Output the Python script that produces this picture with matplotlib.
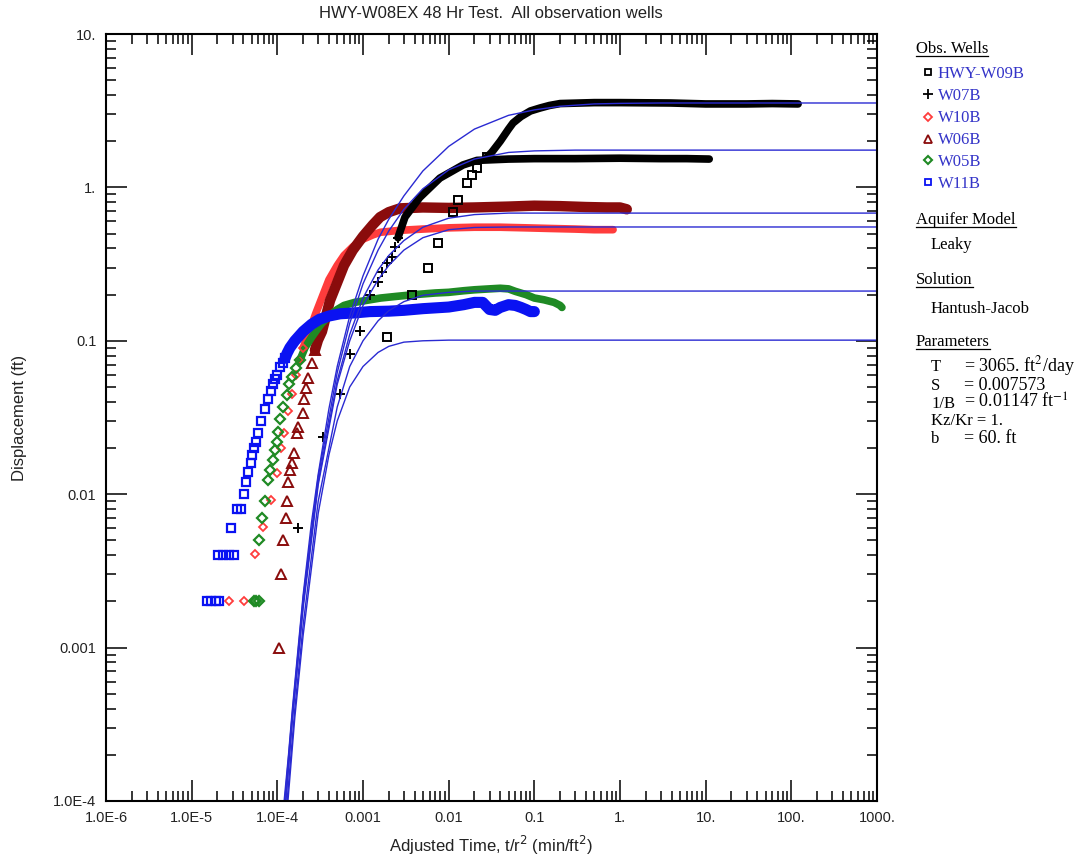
import matplotlib
matplotlib.use("Agg")
import matplotlib.pyplot as plt
import numpy as np
from matplotlib.lines import Line2D
from matplotlib.ticker import FixedLocator, FixedFormatter, LogLocator, NullFormatter

FIG_W, FIG_H = 1088, 859

# ---------------- Hantush-Jacob type curves (x = t/r^2, y = displacement ft) ----------------
fit_w09b_x = [1.2e-4, 1.35e-4, 1.5e-4, 1.75e-4, 2e-4, 2.5e-4, 3e-4, 4e-4, 5e-4, 7e-4, 1e-3, 1.5e-3,
              2e-3, 3e-3, 5e-3, 0.01, 0.02, 0.05, 0.1, 0.2, 0.5, 1.0, 3.0, 1000.0]
fit_w09b_y = [1e-4, 2e-4, 4e-4, 1e-3, 2.2e-3, 6.5e-3, 0.0135, 0.036, 0.068, 0.145, 0.265, 0.46,
              0.62, 0.88, 1.28, 1.85, 2.4, 2.95, 3.2, 3.38, 3.5, 3.53, 3.55, 3.55]

fit_w07b_x = [1.22e-4, 1.5e-4, 2e-4, 3e-4, 5e-4, 7e-4, 1e-3, 1.5e-3, 2e-3, 3e-3, 5e-3, 0.01,
              0.02, 0.05, 0.1, 0.3, 1000.0]
fit_w07b_y = [1e-4, 3.8e-4, 2.1e-3, 0.013, 0.062, 0.13, 0.235, 0.39, 0.52, 0.72, 0.98, 1.3,
              1.53, 1.69, 1.73, 1.75, 1.75]

fit_w06b_x = [1.25e-4, 1.5e-4, 2e-4, 3e-4, 5e-4, 7e-4, 1e-3, 1.5e-3, 2e-3, 3e-3, 5e-3, 0.01,
              0.02, 0.05, 1000.0]
fit_w06b_y = [1e-4, 3.5e-4, 1.9e-3, 0.012, 0.055, 0.11, 0.19, 0.29, 0.36, 0.45, 0.55, 0.63,
              0.665, 0.68, 0.68]

fit_w10b_x = [1.26e-4, 1.5e-4, 2e-4, 3e-4, 5e-4, 7e-4, 1e-3, 1.5e-3, 2e-3, 3e-3, 5e-3, 0.01,
              0.02, 0.05, 1000.0]
fit_w10b_y = [1e-4, 3.4e-4, 1.8e-3, 0.0115, 0.052, 0.10, 0.17, 0.25, 0.31, 0.39, 0.47, 0.53,
              0.548, 0.552, 0.552]

fit_w05b_x = [1.3e-4, 1.6e-4, 2e-4, 3e-4, 5e-4, 7e-4, 1e-3, 1.5e-3, 2e-3, 3e-3, 5e-3, 0.01,
              0.02, 1000.0]
fit_w05b_y = [1e-4, 4e-4, 1.4e-3, 0.009, 0.037, 0.068, 0.10, 0.135, 0.157, 0.18, 0.198, 0.207,
              0.211, 0.211]

fit_w11b_x = [1.33e-4, 1.6e-4, 2e-4, 3e-4, 4e-4, 5e-4, 7e-4, 1e-3, 1.5e-3, 2e-3, 3e-3, 5e-3,
              0.01, 1000.0]
fit_w11b_y = [1e-4, 3.5e-4, 1.2e-3, 0.0075, 0.018, 0.03, 0.05, 0.068, 0.084, 0.092, 0.098, 0.10,
              0.101, 0.101]

# ---------------- observed drawdown: early readings (individual markers) ----------------
w09b_x = [1.9e-3, 3.73e-3, 5.7e-3, 7.5e-3, 0.0112, 0.0128, 0.0164, 0.0187, 0.0213, 0.0279]
w09b_y = [0.106, 0.199, 0.30, 0.435, 0.69, 0.83, 1.07, 1.2, 1.33, 1.57]

w07b_x = [1.75e-4, 3.4e-4, 5.4e-4, 7.1e-4, 9.2e-4, 1.21e-3, 1.5e-3, 1.67e-3, 1.9e-3, 2.18e-3,
          2.36e-3, 2.56e-3]
w07b_y = [0.006, 0.0236, 0.045, 0.0815, 0.115, 0.2, 0.24, 0.28, 0.32, 0.35, 0.41, 0.47]

w10b_x = [2.7e-5, 4.1e-5, 5.5e-5, 6.8e-5, 8.4e-5, 9.9e-5, 1.1e-4, 1.2e-4, 1.35e-4, 1.5e-4,
          1.65e-4, 1.8e-4, 2.0e-4]
w10b_y = [0.002, 0.002, 0.0041, 0.0061, 0.0092, 0.0137, 0.02, 0.025, 0.035, 0.045,
          0.06, 0.075, 0.09]

w06b_x = [1.04e-4, 1.1e-4, 1.15e-4, 1.26e-4, 1.3e-4, 1.35e-4, 1.4e-4, 1.5e-4, 1.55e-4, 1.7e-4,
          1.75e-4, 2.0e-4, 2.05e-4, 2.16e-4, 2.28e-4, 2.54e-4, 2.75e-4]
w06b_y = [0.001, 0.003, 0.005, 0.007, 0.009, 0.012, 0.0144, 0.016, 0.0185, 0.025, 0.0275, 0.034,
          0.042, 0.049, 0.057, 0.072, 0.087]

w05b_x = [5.3e-5, 5.7e-5, 6.1e-5, 6.1e-5, 6.6e-5, 7.1e-5, 7.8e-5, 8.2e-5, 8.9e-5, 9.3e-5,
          9.8e-5, 1.02e-4, 1.07e-4, 1.17e-4, 1.28e-4, 1.38e-4, 1.5e-4, 1.65e-4, 1.84e-4]
w05b_y = [0.002, 0.002, 0.002, 0.005, 0.007, 0.009, 0.0124, 0.0144, 0.0167, 0.0194,
          0.022, 0.0254, 0.031, 0.037, 0.044, 0.052, 0.058, 0.066, 0.075]

w11b_x = [1.5e-5, 1.7e-5, 1.9e-5, 2.1e-5, 2.05e-5, 2.35e-5, 2.7e-5, 3.1e-5, 2.9e-5, 3.4e-5,
          3.8e-5, 4.1e-5, 4.3e-5, 4.6e-5, 4.9e-5, 5.0e-5, 5.3e-5, 5.6e-5, 5.9e-5, 6.4e-5,
          7.2e-5, 7.8e-5, 8.4e-5, 8.9e-5, 9.5e-5, 1.0e-4, 1.08e-4, 1.15e-4, 1.23e-4]
w11b_y = [0.002, 0.002, 0.002, 0.002, 0.004, 0.004, 0.004, 0.004, 0.006, 0.008,
          0.008, 0.010, 0.012, 0.014, 0.016, 0.018, 0.020, 0.022, 0.025, 0.030,
          0.036, 0.042, 0.047, 0.052, 0.056, 0.060, 0.067, 0.072, 0.077]

# ---------------- observed drawdown: continuous logger record ----------------
w09b_rec_x = [0.0279, 0.032, 0.04, 0.05, 0.0564, 0.07, 0.09, 0.116, 0.15, 0.2, 0.5, 1.0, 3.9,
              10.0, 30.0, 60.0, 120.0]
w09b_rec_y = [1.57, 1.7, 2.0, 2.4, 2.63, 2.9, 3.15, 3.29, 3.42, 3.52, 3.57, 3.57, 3.55,
              3.5, 3.5, 3.52, 3.5]

w07b_rec_x = [2.56e-3, 3.09e-3, 4.6e-3, 7.9e-3, 0.0147, 0.0214, 0.05, 0.1, 0.3, 1.0, 3.0, 6.0, 11.0]
w07b_rec_y = [0.47, 0.64, 0.86, 1.15, 1.40, 1.50, 1.53, 1.54, 1.54, 1.55, 1.54, 1.54, 1.53]

w10b_rec_x = [2.0e-4, 2.3e-4, 2.8e-4, 3.3e-4, 4e-4, 5e-4, 6e-4, 7.6e-4, 1e-3,
              1.3e-3, 1.6e-3, 2.7e-3, 5e-3, 0.01, 0.02, 0.04, 0.08, 0.15, 0.3, 0.5, 0.83]
w10b_rec_y = [0.09, 0.11, 0.15, 0.19, 0.25, 0.31, 0.36, 0.41, 0.46,
              0.49, 0.51, 0.525, 0.535, 0.545, 0.55, 0.55, 0.545, 0.54, 0.535, 0.53, 0.53]

w06b_rec_x = [2.75e-4, 2.98e-4, 3.32e-4, 3.6e-4,
              4.12e-4, 5e-4, 6e-4, 7.6e-4, 1e-3, 1.3e-3, 1.58e-3, 2e-3, 2.7e-3, 5e-3, 0.01,
              0.02, 0.05, 0.1, 0.2, 0.4, 0.7, 1.0, 1.2]
w06b_rec_y = [0.087, 0.101, 0.115, 0.137,
              0.183, 0.24, 0.31, 0.39, 0.48, 0.57, 0.64, 0.69, 0.73, 0.74, 0.735,
              0.74, 0.75, 0.76, 0.755, 0.745, 0.74, 0.74, 0.72]

w05b_rec_x = [1.84e-4, 2.1e-4, 2.5e-4, 2.9e-4, 3.3e-4, 4e-4, 5e-4, 6e-4, 8e-4, 1.2e-3,
              1.6e-3, 2.5e-3, 4e-3, 7e-3, 0.01, 0.015, 0.02, 0.03, 0.04, 0.05, 0.06, 0.08, 0.1,
              0.13, 0.17, 0.2, 0.21]
w05b_rec_y = [0.075, 0.09, 0.105, 0.118, 0.13, 0.145, 0.16, 0.17, 0.178, 0.185,
              0.19, 0.195, 0.2, 0.205, 0.207, 0.212, 0.215, 0.218, 0.22, 0.218, 0.21, 0.2, 0.19,
              0.185, 0.178, 0.17, 0.165]

w11b_rec_x = [1.23e-4, 1.3e-4, 1.4e-4, 1.6e-4, 2e-4, 2.5e-4, 3.1e-4, 4e-4, 5.4e-4, 8e-4,
              1.2e-3, 2e-3, 3e-3, 5e-3, 0.01, 0.015, 0.02, 0.025, 0.03, 0.035, 0.04, 0.05,
              0.06, 0.07, 0.08, 0.09, 0.1]
w11b_rec_y = [0.077, 0.083, 0.09, 0.10, 0.115, 0.128, 0.138, 0.145, 0.15, 0.152,
              0.155, 0.156, 0.158, 0.162, 0.166, 0.172, 0.178, 0.178, 0.16, 0.158, 0.165, 0.172,
              0.17, 0.165, 0.16, 0.155, 0.155]

x_major = [1e-6, 1e-5, 1e-4, 1e-3, 1e-2, 1e-1, 1.0, 10.0, 100.0, 1000.0]
x_labels = ["1.0E-6", "1.0E-5", "1.0E-4", "0.001", "0.01", "0.1", "1.", "10.", "100.", "1000."]
y_major = [1e-4, 1e-3, 1e-2, 1e-1, 1.0, 10.0]
y_labels = ["1.0E-4", "0.001", "0.01", "0.1", "1.", "10."]

well_names = ["HWY-W09B", "W07B", "W10B", "W06B", "W05B", "W11B"]

SANS = "Liberation Sans"
SERIF = "Liberation Serif"
FIT_COLOR = "#2a2ad2"
LABEL_BLUE = "#3434c8"

C_W09B = "black"
C_W07B = "black"
C_W10B = "#ff3c3c"
C_W06B = "#8a0c0c"
C_W05B = "#1f8a24"
C_W11B = "#0a12f2"


def px(x, y):
    """pixel position (from top-left) -> figure fraction"""
    return x / FIG_W, 1.0 - y / FIG_H


fig = plt.figure(figsize=(FIG_W / 100, FIG_H / 100), dpi=100)
fig.patch.set_facecolor("white")
left, right, top, bottom = 106, 877, 34, 801
ax = fig.add_axes([left / FIG_W, 1 - bottom / FIG_H, (right - left) / FIG_W, (bottom - top) / FIG_H])
ax.set_xscale("log")
ax.set_yscale("log")
ax.set_xlim(1e-6, 1e3)
ax.set_ylim(1e-4, 10)

# continuous records drawn as thick bands
band = dict(solid_capstyle="round", solid_joinstyle="round", zorder=2)
ax.plot(w10b_rec_x, w10b_rec_y, color=C_W10B, lw=5.5, **band)
ax.plot(w06b_rec_x, w06b_rec_y, color=C_W06B, lw=7.5, **band)
ax.plot(w05b_rec_x, w05b_rec_y, color=C_W05B, lw=5.5, **band)
ax.plot(w11b_rec_x, w11b_rec_y, color=C_W11B, lw=8.0, **band)
ax.plot(w07b_rec_x, w07b_rec_y, color=C_W07B, lw=5.5, **band)
ax.plot(w09b_rec_x, w09b_rec_y, color=C_W09B, lw=5.5, **band)

# individual early readings
ax.plot(w10b_x, w10b_y, ls="none", marker="D", ms=4.2, mfc="none", mec=C_W10B, mew=1.3, zorder=3)
ax.plot(w06b_x, w06b_y, ls="none", marker="^", ms=6.5, mfc="none", mec=C_W06B, mew=1.4, zorder=3)
ax.plot(w05b_x, w05b_y, ls="none", marker="D", ms=4.8, mfc="none", mec=C_W05B, mew=1.6, zorder=3)
ax.plot(w11b_x, w11b_y, ls="none", marker="s", ms=5.5, mfc="none", mec=C_W11B, mew=1.6, zorder=3)
ax.plot(w07b_x, w07b_y, ls="none", marker="+", ms=7.5, mec=C_W07B, mew=1.4, zorder=3)
ax.plot(w09b_x, w09b_y, ls="none", marker="s", ms=5.5, mfc="none", mec=C_W09B, mew=1.4, zorder=3)

# fitted type curves
for fx, fy in [(fit_w09b_x, fit_w09b_y), (fit_w07b_x, fit_w07b_y), (fit_w06b_x, fit_w06b_y),
               (fit_w10b_x, fit_w10b_y), (fit_w05b_x, fit_w05b_y), (fit_w11b_x, fit_w11b_y)]:
    ax.plot(fx, fy, color=FIT_COLOR, lw=1.0, zorder=4)

# axes, ticks
for s in ax.spines.values():
    s.set_linewidth(1.5)
    s.set_zorder(6)
ax.xaxis.set_major_locator(FixedLocator(x_major))
ax.xaxis.set_major_formatter(FixedFormatter(x_labels))
ax.yaxis.set_major_locator(FixedLocator(y_major))
ax.yaxis.set_major_formatter(FixedFormatter(y_labels))
ax.xaxis.set_minor_locator(LogLocator(base=10, subs=np.arange(2, 10), numticks=100))
ax.yaxis.set_minor_locator(LogLocator(base=10, subs=np.arange(2, 10), numticks=100))
ax.xaxis.set_minor_formatter(NullFormatter())
ax.yaxis.set_minor_formatter(NullFormatter())
ax.tick_params(which="major", direction="in", length=15, width=1.1, top=True, right=True,
               labelsize=10.5, pad=7, colors="black")
ax.tick_params(which="minor", direction="in", length=7.5, width=1.1, top=True, right=True)
for lab in ax.get_xticklabels() + ax.get_yticklabels():
    lab.set_fontfamily(SANS)
    lab.set_color("#222222")

# titles
fig.text(*px(491, 14), "HWY-W08EX 48 Hr Test.  All observation wells", ha="center", va="center",
         fontsize=12, family=SANS, color="#222222")
fig.text(*px(491, 845), r"Adjusted Time, t/r$^2$ (min/ft$^2$)", ha="center", va="center",
         fontsize=12, family=SANS, color="#222222", math_fontfamily="dejavusans")
fig.text(*px(20, 418), "Displacement (ft)", ha="center", va="center", rotation=90,
         fontsize=12, family=SANS, color="#222222")

# ---------------- side panel ----------------
LEG = dict(fontsize=12, family=SERIF, va="baseline", math_fontfamily="stix")
VAL = dict(fontsize=13, family=SERIF, va="baseline", math_fontfamily="stix")
headers = []


def header(y, text):
    t = fig.text(*px(916, y), text, ha="left", color="black", **LEG)
    headers.append(t)


header(53, "Obs. Wells")
legend_marks = [
    dict(marker="s", ms=5, mfc="none", mec=C_W09B, mew=1.3),
    dict(marker="+", ms=7, mec=C_W07B, mew=1.3),
    dict(marker="D", ms=4, mfc="none", mec=C_W10B, mew=1.3),
    dict(marker="^", ms=5.5, mfc="none", mec=C_W06B, mew=1.3),
    dict(marker="D", ms=4.5, mfc="none", mec=C_W05B, mew=1.5),
    dict(marker="s", ms=5, mfc="none", mec=C_W11B, mew=1.3),
]
legend_y = [72, 94, 117, 139, 160, 182]
for name, mk, yy in zip(well_names, legend_marks, legend_y):
    mx, my = px(928, yy)
    fig.add_artist(Line2D([mx], [my], transform=fig.transFigure, ls="none", **mk))
    fig.text(*px(938, yy + 5.5), name, ha="left", color=LABEL_BLUE, **LEG)

header(224, "Aquifer Model")
fig.text(*px(931, 249), "Leaky", ha="left", color="black", **LEG)
header(284, "Solution")
fig.text(*px(931, 313), "Hantush-Jacob", ha="left", color="black", **LEG)
header(346, "Parameters")
params = [("T", "= 3065. ft$^2$/day", 371),
          ("S", "= 0.007573", 390),
          ("1/B", "= 0.01147 ft$^{-1}$", 408),
          ("b", "= 60. ft", 443)]
for k, v, yy in params:
    fig.text(*px(931, yy), k, ha="left", color="black", **LEG)
    fig.text(*px(964, yy), v, ha="left", color="black", **VAL)
fig.text(*px(931, 425), "Kz/Kr = 1.", ha="left", color="black", **LEG)

fig.canvas.draw()
renderer = fig.canvas.get_renderer()
for t in headers:
    bb = t.get_window_extent(renderer)
    xb, yb = t.get_position()
    y_line = yb - 3.0 / FIG_H
    fig.add_artist(Line2D([bb.x0 / FIG_W, bb.x1 / FIG_W], [y_line, y_line],
                          transform=fig.transFigure, color="black", lw=0.9))

fig.savefig("out.png", dpi=100, facecolor="white")
